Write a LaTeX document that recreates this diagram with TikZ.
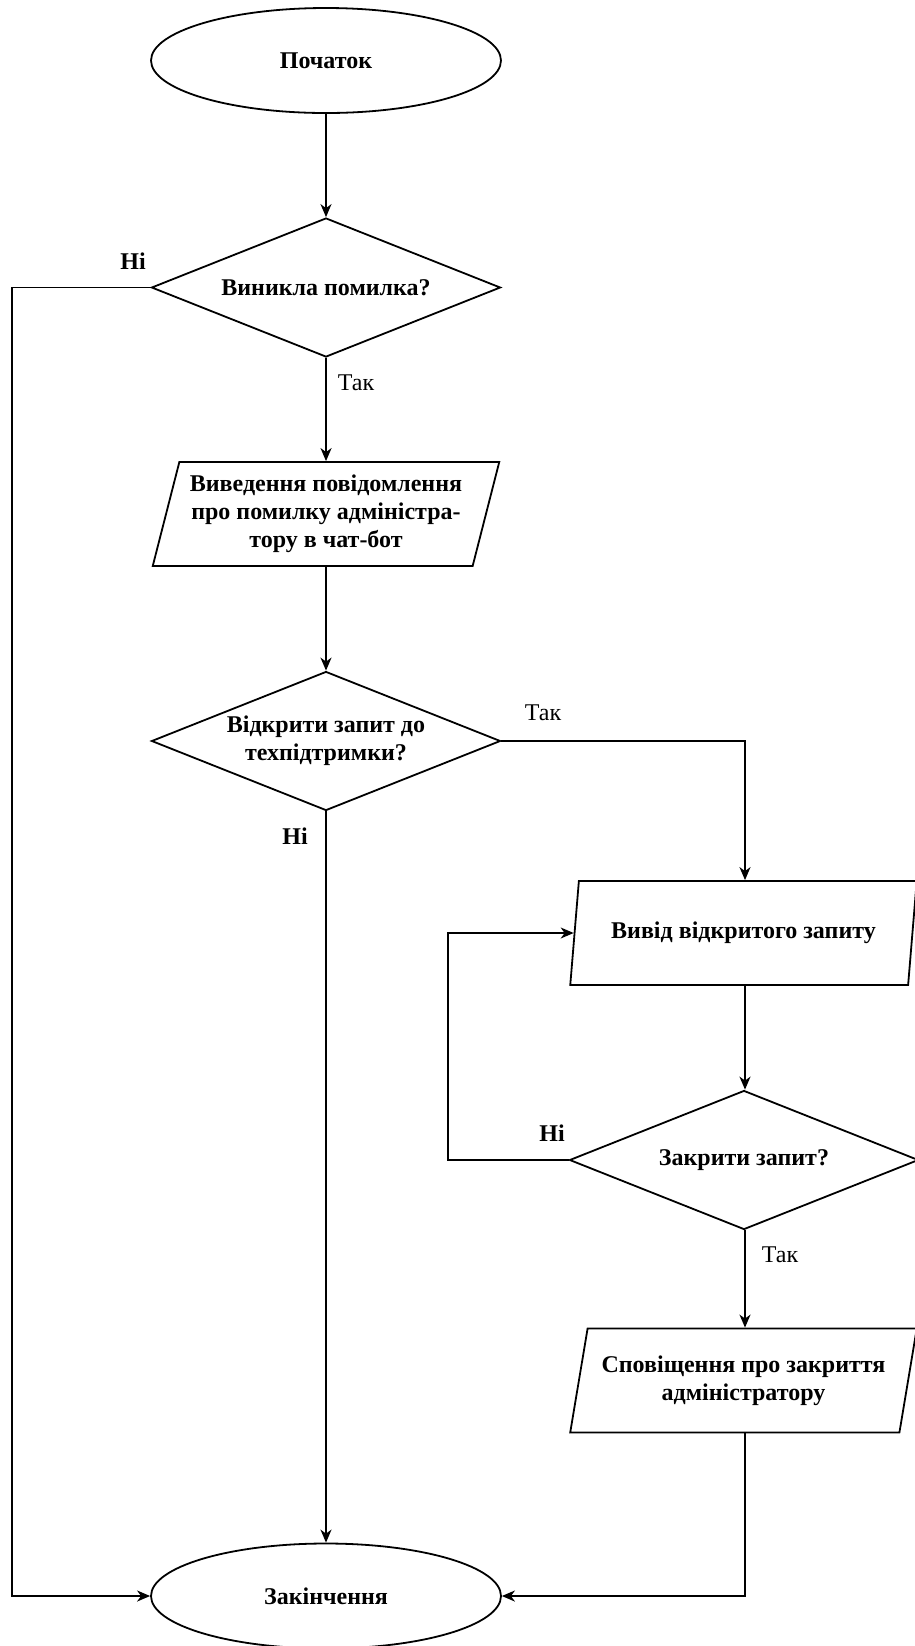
\documentclass[tikz,border=0pt]{standalone}
\usepackage{fontspec}
\setmainfont{Liberation Serif}
\usetikzlibrary{shapes.geometric,arrows.meta}
\begin{document}
\begin{tikzpicture}[x=0.5pt,y=-0.5pt,
  txt/.style={font=\fontsize{12}{14}\selectfont},
  btxt/.style={font=\bfseries\fontsize{12}{14}\selectfont},
  terminal/.style={draw, ellipse, line width=0.9pt, minimum width=175pt,
    minimum height=52.5pt, inner sep=0pt, btxt},
  decision/.style={draw, diamond, aspect=2.5, line width=0.9pt,
    minimum width=174.5pt, minimum height=69.5pt, inner sep=0pt,
    align=center, btxt},
  iobox/.style={draw, trapezium, trapezium left angle=72.4,
    trapezium right angle=107.6, trapezium stretches=true, line width=0.9pt,
    minimum width=173.5pt, minimum height=52pt, inner sep=0pt,
    align=center, btxt},
  flow/.style={line width=0.9pt,
    -{Stealth[length=6.5pt,width=5.5pt,inset=2pt]}},
  lbl/.style={inner sep=0pt, txt},
  blbl/.style={inner sep=0pt, btxt}]

% canvas
\fill[white] (0,0) rectangle (915,1646);
\useasboundingbox (0,0) rectangle (915,1646);

% shapes
\node[terminal] (start) at (326,60.5) {Початок};
\node[decision] (err) at (326,287.5) {Виникла помилка?};
\node[iobox] (msg) at (326,514) {Виведення повідомлення\\про помилку адміністра-\\тору в чат-бот};
\node[decision] (ask) at (326,741) {Відкрити запит до\\техпідтримки?};
\node[iobox] (open) at (743.5,933) {Вивід відкритого запиту};
\node[decision] (close) at (744,1160) {Закрити запит?};
\node[iobox] (notify) at (743.5,1380.5) {Сповіщення про закриття\\адміністратору};
\node[terminal] (finish) at (326,1596) {Закінчення};

% bend points
\coordinate (errL) at (12,287.5);
\coordinate (finL) at (12,1596);
\coordinate (askR) at (745,741);
\coordinate (loopB) at (448,1160);
\coordinate (loopT) at (448,933);
\coordinate (notB) at (745,1596);

% connectors
\draw[flow] (start.south) -- (err.north);
\draw[flow] (err.south) -- (msg.north);
\draw[flow] (err.west) -- (errL) -- (finL) -- (finish.west);
\draw[flow] (msg.south) -- (ask.north);
\draw[flow] (ask.east) -- (askR) -- (open.north -| askR);
\draw[flow] (ask.south) -- (finish.north);
\draw[flow] (open.south -| askR) -- (close.north -| askR);
\draw[flow] (close.west) -- (loopB) -- (loopT) -- (open.left side);
\draw[flow] (close.south -| askR) -- (notify.north -| askR);
\draw[flow] (notify.south -| askR) -- (notB) -- (finish.east);

% branch labels
\node[blbl] (n1) at (133,261) {Ні};
\node[lbl] (y1) at (356,383) {Так};
\node[lbl] (y2) at (543,713) {Так};
\node[blbl] (n2) at (295,836) {Ні};
\node[blbl] (n3) at (552,1133) {Ні};
\node[lbl] (y3) at (780,1255) {Так};
\end{tikzpicture}
\end{document}
